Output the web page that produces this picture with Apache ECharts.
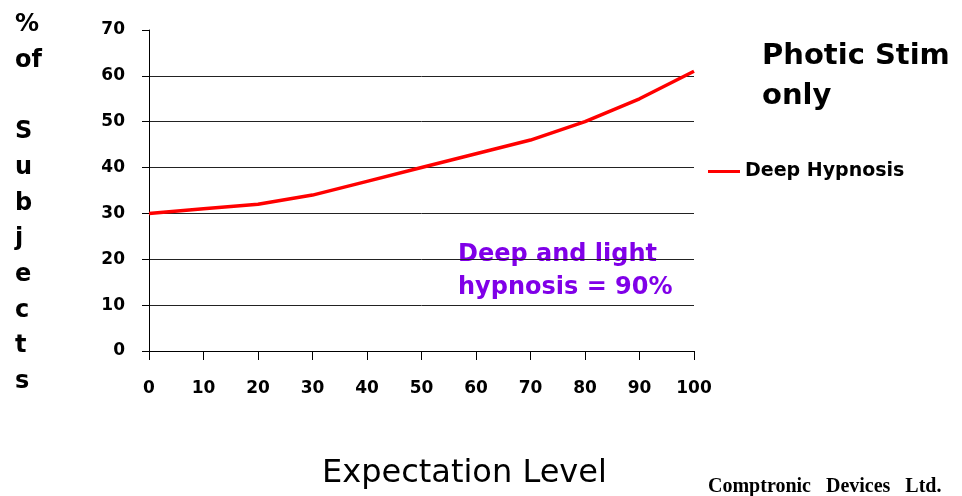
<!DOCTYPE html>
<html><head><meta charset="utf-8">
<script src="https://cdn.jsdelivr.net/npm/echarts@6/dist/echarts.min.js"></script>
<style>html,body{margin:0;padding:0;background:#fff}#c{width:962px;height:496px}</style>
</head><body><div id="c"></div>
<script>
var expectation = [0, 10, 20, 30, 40, 50, 60, 70, 80, 90, 100];
var deepHypnosis = [30, 31, 32, 34, 37, 40, 43, 46, 50, 55, 61];
var seriesName = 'Deep Hypnosis';
var yTitleLines = ['%', 'of', '', 'S', 'u', 'b', 'j', 'e', 'c', 't', 's'];

var chart = echarts.init(document.getElementById('c'), null, {renderer: 'canvas'});
var pts = expectation.map(function (x, i) { return [x, deepHypnosis[i]]; });
chart.setOption({
  animation: false,
  backgroundColor: '#ffffff',
  grid: {left: 149, right: 268, top: 30, bottom: 145},
  legend: {
    data: [{name: seriesName, icon: 'rect'}], left: 703, top: 157, itemWidth: 32, itemHeight: 3, itemGap: 6,
    textStyle: {fontFamily: 'DejaVu Sans', fontWeight: 'bold', fontSize: 19, color: '#000'}
  },
  xAxis: {
    type: 'value', min: 0, max: 100, interval: 10,
    axisLine: {show: true, lineStyle: {color: '#000', width: 1}},
    axisTick: {show: true, length: 9, lineStyle: {color: '#000'}},
    splitLine: {show: false},
    axisLabel: {margin: 29, color: '#000', fontFamily: 'DejaVu Sans', fontWeight: 'bold', fontSize: 17}
  },
  yAxis: {
    type: 'value', min: 0, max: 70, interval: 10,
    axisLine: {show: true, lineStyle: {color: '#000', width: 1}},
    axisTick: {show: true, length: 7, lineStyle: {color: '#000'}},
    splitLine: {show: true, showMaxLine: false, lineStyle: {color: '#222', width: 1}},
    axisLabel: {margin: 24, color: '#000', fontFamily: 'DejaVu Sans', fontWeight: 'bold', fontSize: 17}
  },
  series: [{
    name: seriesName, type: 'line', data: pts, symbol: 'none',
    lineStyle: {color: '#ff0000', width: 3.5}, itemStyle: {color: '#ff0000'}
  }],
  graphic: [
    {type: 'text', left: 762, top: 36, style: {text: 'Photic Stim\nonly', fontFamily: 'DejaVu Sans', fontWeight: 'bold', fontSize: 29, lineHeight: 40, fill: '#000'}},
    {type: 'text', left: 458, top: 238, style: {text: 'Deep and light\nhypnosis = 90%', fontFamily: 'DejaVu Sans', fontWeight: 'bold', fontSize: 24, lineHeight: 33, fill: '#8000e8'}},
    {type: 'text', left: 322, top: 458, style: {text: 'Expectation Level', fontFamily: 'DejaVu Sans', fontSize: 32, fill: '#000'}},
    {type: 'text', left: 708, top: 477, style: {text: 'Comptronic   Devices   Ltd.', fontFamily: 'Liberation Serif', fontWeight: 'bold', fontSize: 20, fill: '#000'}},
    {type: 'text', left: 15, top: 7, style: {text: yTitleLines.join('\n'), fontFamily: 'DejaVu Sans', fontWeight: 'bold', fontSize: 24, lineHeight: 35.7, align: 'left', fill: '#000'}}
  ]
});
</script></body></html>
